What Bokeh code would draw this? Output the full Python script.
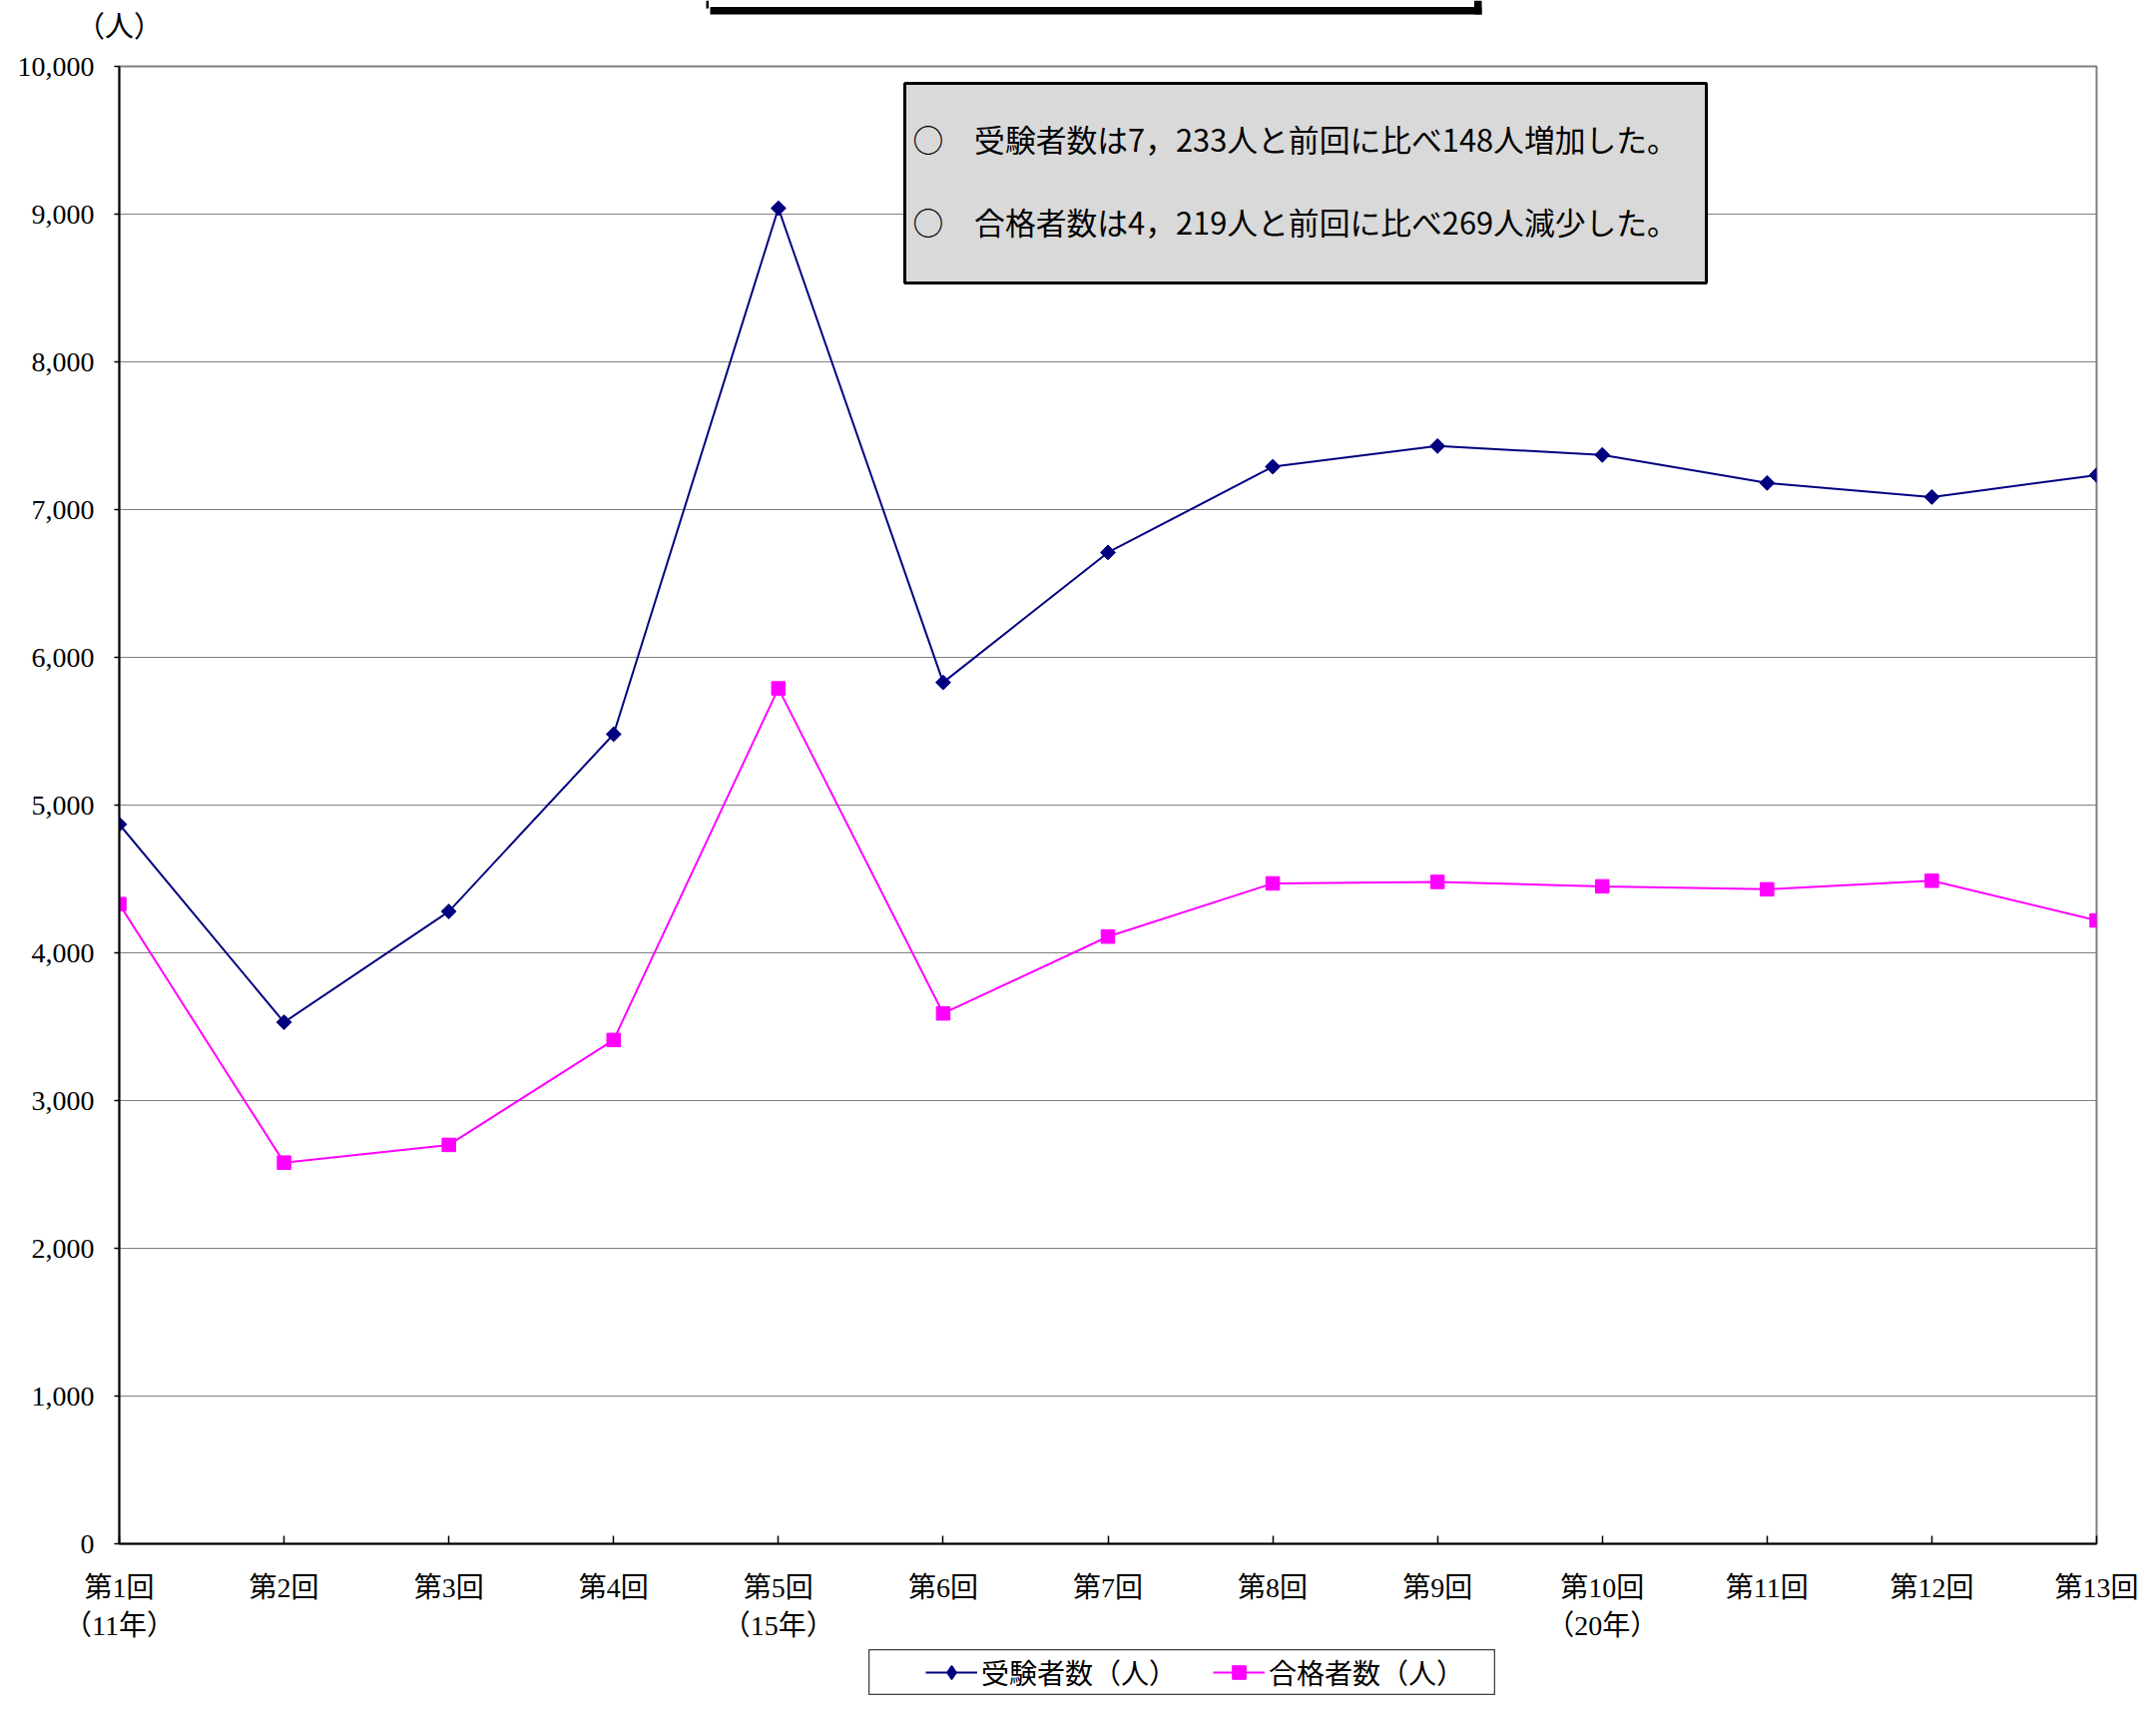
import numpy as np
from bokeh.plotting import figure
from bokeh.layouts import column, row
from bokeh.models import (Range1d, FixedTicker, NumeralTickFormatter, Legend,
                          LegendItem, BoxAnnotation, Label, Spacer)
from bokeh.embed import file_html
from bokeh.resources import INLINE

# ---------------- data ----------------
rounds = ["第1回", "第2回", "第3回", "第4回", "第5回", "第6回", "第7回",
          "第8回", "第9回", "第10回", "第11回", "第12回", "第13回"]
years = ["（11年）", "", "", "", "（15年）", "", "", "", "", "（20年）", "", "", ""]
examinees = [4870, 3530, 4280, 5480, 9040, 5830, 6710, 7290, 7430, 7370, 7180, 7085, 7233]
passers = [4330, 2580, 2700, 3410, 5790, 3590, 4110, 4470, 4480, 4450, 4430, 4488, 4219]
y_ticks = list(range(0, 10001, 1000))
series_names = ["受験者数（人）", "合格者数（人）"]
note_lines = ["○　受験者数は7，233人と前回に比べ148人増加した。",
              "○　合格者数は4，219人と前回に比べ269人減少した。"]
unit_label = "（人）"

# ---------------- layout / style ----------------
W = 2144
TOP_H = 46                                  # strip above the chart
MAIN_BOTTOM = 1652                          # page y where the chart figure ends
LEG_H = 46
FL, FR, FT, FB = 119, 2100, 66, 1546        # frame edges (page pixels)
LEG_L, LEG_R = 870, 1498                    # legend box (page pixels)
NAVY = "#000080"
MAGENTA = "#FF00FF"
SERIF = "Liberation Serif, Noto Sans CJK JP"
CJK = "Noto Sans CJK JP"

x_vals = list(range(1, len(rounds) + 1))
X0, X1 = x_vals[0], x_vals[-1]
Y0, Y1 = y_ticks[0], y_ticks[-1]


def xd(px):
    return X0 + (px - FL) / (FR - FL) * (X1 - X0)


def yd(py):
    return Y1 - (py - FT) / (FB - FT) * (Y1 - Y0)


def bare(fig):
    fig.xgrid.visible = False
    fig.ygrid.visible = False
    fig.background_fill_color = "white"
    fig.border_fill_color = "white"
    return fig


# ---------------- top strip: unit label + shadow of the cut-off title box ----
top = bare(figure(width=W, height=TOP_H, output_backend="svg", toolbar_location=None,
                  title=None, x_axis_type=None, y_axis_type=None, min_border=0,
                  x_range=Range1d(0, W), y_range=Range1d(TOP_H, 0)))
top.outline_line_color = None
for l, r, t, b in [(707, 709.5, 0, 8), (711, 1484, 6.5, 14), (1476.5, 1484, 0, 14)]:
    top.add_layout(BoxAnnotation(left=l, right=r, top=t, bottom=b,
                                 fill_color="black", fill_alpha=1,
                                 line_alpha=0))
top.add_layout(Label(x=FL, y=23, text=unit_label, text_align="center",
                     text_baseline="middle", text_font=CJK,
                     text_font_size="29px", text_color="black"))

# ---------------- main chart ----------------
MAIN_H = MAIN_BOTTOM - TOP_H
p = figure(width=W, height=MAIN_H, output_backend="svg", toolbar_location=None,
           title=None, x_range=Range1d(X0, X1), y_range=Range1d(Y0, Y1),
           min_border_left=FL, min_border_right=W - FR,
           min_border_top=FT - TOP_H, min_border_bottom=MAIN_BOTTOM - FB)
p.background_fill_color = "white"
p.border_fill_color = "white"
p.outline_line_color = "#808080"
p.outline_line_width = 2

p.xgrid.visible = False
p.ygrid.ticker = FixedTicker(ticks=y_ticks)
p.ygrid.grid_line_color = "#808080"
p.ygrid.grid_line_width = 1.2

p.yaxis.ticker = FixedTicker(ticks=y_ticks)
p.yaxis.formatter = NumeralTickFormatter(format="0,0")
p.yaxis.axis_line_color = "black"
p.yaxis.axis_line_width = 2
p.yaxis.major_tick_line_color = "black"
p.yaxis.major_tick_line_width = 1.5
p.yaxis.major_tick_out = 5
p.yaxis.major_tick_in = 0
p.yaxis.minor_tick_line_color = None
p.yaxis.major_label_text_font = SERIF
p.yaxis.major_label_text_font_size = "28px"
p.yaxis.major_label_text_color = "black"
p.yaxis.major_label_standoff = 20

p.xaxis.ticker = FixedTicker(ticks=x_vals)
p.xaxis.major_label_overrides = {
    x: (r + "\n" + y if y else r) for x, r, y in zip(x_vals, rounds, years)
}
p.xaxis.axis_line_color = "black"
p.xaxis.axis_line_width = 2
p.xaxis.major_tick_line_color = "black"
p.xaxis.major_tick_line_width = 1.5
p.xaxis.major_tick_in = 8
p.xaxis.major_tick_out = 0
p.xaxis.minor_tick_line_color = None
p.xaxis.major_label_text_font = SERIF
p.xaxis.major_label_text_font_size = "28px"
p.xaxis.major_label_text_color = "black"
p.xaxis.major_label_text_line_height = 1.25
p.xaxis.major_label_standoff = 28

p.line(x_vals, examinees, line_color=NAVY, line_width=2)
p.scatter(x_vals, examinees, marker="square", angle=np.pi / 4, size=10.5,
          fill_color=NAVY, line_color=NAVY)
p.line(x_vals, passers, line_color=MAGENTA, line_width=2)
p.scatter(x_vals, passers, marker="square", size=13.5,
          fill_color=MAGENTA, line_color=MAGENTA)

# note box
p.add_layout(BoxAnnotation(left=xd(906), right=xd(1709), top=yd(83), bottom=yd(283),
                           fill_color="#d9d9d9", fill_alpha=1,
                           line_color="black", line_alpha=1, line_width=3))
for txt, py in zip(note_lines, [138, 221]):
    p.add_layout(Label(x=xd(914), y=yd(py), text=txt, text_align="left",
                       text_baseline="middle", text_font=CJK,
                       text_font_size="30.8px", text_color="black"))

# ---------------- legend box ----------------
# the legend figure holds the same series, but its ranges keep them out of view:
# only the legend entries (glyph + label) are visible inside the bordered box
leg = bare(figure(width=LEG_R - LEG_L, height=LEG_H, output_backend="svg",
                  toolbar_location=None, title=None, x_axis_type=None,
                  y_axis_type=None, min_border=0,
                  x_range=Range1d(-1, 0), y_range=Range1d(-1, 0)))
leg.outline_line_color = "#404040"
leg.outline_line_width = 1.5
g1l = leg.line(x_vals, examinees, line_color=NAVY, line_width=2)
g1s = leg.scatter(x_vals, examinees, marker="diamond", size=14,
                  fill_color=NAVY, line_color=NAVY, line_width=1.5)
g2l = leg.line(x_vals, passers, line_color=MAGENTA, line_width=2)
g2s = leg.scatter(x_vals, passers, marker="square", size=13.5,
                  fill_color=MAGENTA, line_color=MAGENTA)
legend = Legend(items=[LegendItem(label=series_names[0], renderers=[g1l, g1s]),
                       LegendItem(label=series_names[1], renderers=[g2l, g2s])],
                location="left", margin=927 - LEG_L,
                orientation="horizontal", padding=0, spacing=36,
                glyph_width=52, glyph_height=34, label_standoff=4,
                label_text_font=CJK, label_text_font_size="28px",
                label_text_color="black",
                border_line_alpha=0, background_fill_alpha=0)
leg.add_layout(legend, "center")

layout = column(row(top), p, row(Spacer(width=LEG_L, height=LEG_H), leg),
                spacing=0)

open("out.html", "w").write(file_html(layout, INLINE))
